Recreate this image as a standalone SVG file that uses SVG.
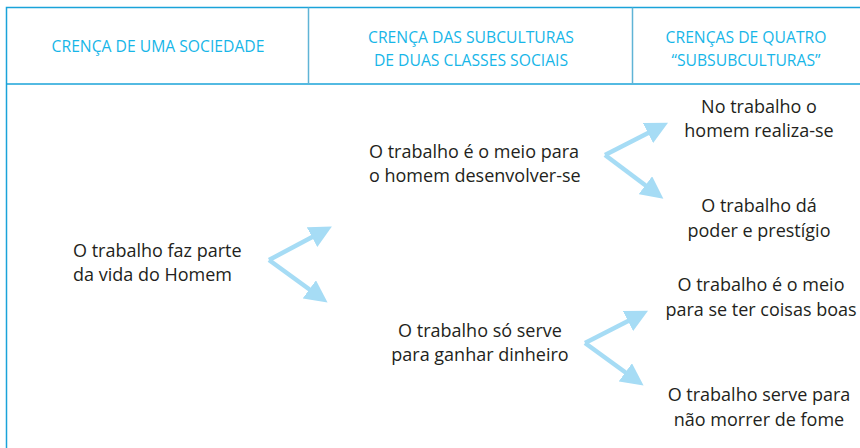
<svg xmlns="http://www.w3.org/2000/svg" width="860" height="448" viewBox="0 0 860 448">
<style>
.hd{font-family:"Open Sans","Liberation Sans",sans-serif;font-size:15.7px;fill:#17b6e8;text-anchor:middle}
.tx{font-family:"Open Sans","Liberation Sans",sans-serif;font-size:18px;fill:#231f20}
.c{text-anchor:middle}
.ln{stroke:#1aa3d9;stroke-width:1.5;fill:none}
.vl{stroke:#5fb4d6;stroke-width:1.5;fill:none}
.ar{stroke:#a6dcf5;stroke-width:4.5;fill:none;stroke-linejoin:miter}
</style>
<defs>
<marker id="ah" markerWidth="5" markerHeight="5" refX="1" refY="2.5" orient="auto" markerUnits="strokeWidth">
<path d="M0,0 L5,2.5 L0,5 Z" fill="#a6dcf5"/>
</marker>
</defs>
<rect width="860" height="448" fill="#fff"/>
<g id="table">
<path class="ln" d="M860,7.5 H6.5 V448"/>
<path class="ln" d="M6.5,84 H860"/>
<path class="vl" d="M308.5,7.5 V84 M632.5,7.5 V84"/>
</g>
<g id="headers">
<text class="hd" x="158" y="52">CRENÇA DE UMA SOCIEDADE</text>
<text class="hd" x="471" y="43">CRENÇA DAS SUBCULTURAS</text>
<text class="hd" x="471" y="66">DE DUAS CLASSES SOCIAIS</text>
<text class="hd" x="746" y="43">CRENÇAS DE QUATRO</text>
<text class="hd" x="746" y="66">“SUBSUBCULTURAS”</text>
</g>
<g id="n1"><text class="tx" x="73" y="257">O trabalho faz parte</text><text class="tx" x="73" y="281">da vida do Homem</text></g>
<g id="n2"><text class="tx" x="369" y="158">O trabalho é o meio para</text><text class="tx" x="369" y="182">o homem desenvolver-se</text></g>
<g id="n3"><text class="tx c" x="480" y="337">O trabalho só serve</text><text class="tx c" x="480" y="361">para ganhar dinheiro</text></g>
<g id="n4"><text class="tx c" x="759" y="113">No trabalho o</text><text class="tx c" x="759" y="137">homem realiza-se</text></g>
<g id="n5"><text class="tx c" x="759" y="212">O trabalho dá</text><text class="tx c" x="759" y="237">poder e prestígio</text></g>
<g id="n6"><text class="tx c" x="761" y="291">O trabalho é o meio</text><text class="tx c" x="761" y="316">para se ter coisas boas</text></g>
<g id="n7"><text class="tx c" x="759" y="401">O trabalho serve para</text><text class="tx c" x="759" y="426">não morrer de fome</text></g>
<g id="connectors">
<path class="ar" d="M269,260 L316,235" marker-end="url(#ah)"/>
<path class="ar" d="M269,260 L313,292" marker-end="url(#ah)"/>
<path class="ar" d="M605,155 L652,131" marker-end="url(#ah)"/>
<path class="ar" d="M605,155 L649,188" marker-end="url(#ah)"/>
<path class="ar" d="M585,343 L632,319" marker-end="url(#ah)"/>
<path class="ar" d="M585,343 L629,375" marker-end="url(#ah)"/>
</g>
</svg>
